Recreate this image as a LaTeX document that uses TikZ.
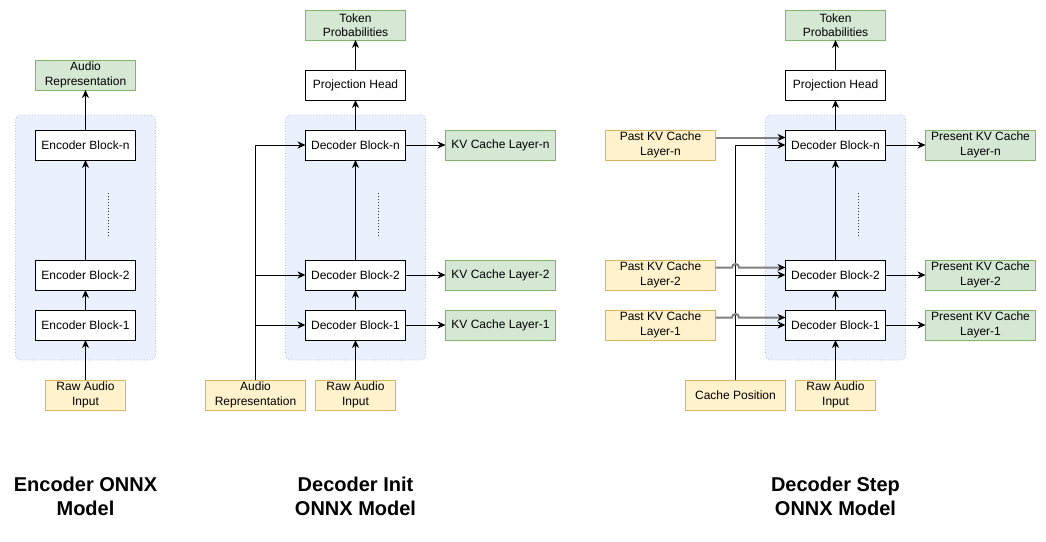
\documentclass[tikz,border=0pt]{standalone}
\usepackage{fontspec}
\setmainfont{Liberation Sans}
\usetikzlibrary{arrows.meta}

\definecolor{gfill}{HTML}{D5E8D4}
\definecolor{gdraw}{HTML}{82B366}
\definecolor{yfill}{HTML}{FFF2CC}
\definecolor{ydraw}{HTML}{D6B656}
\definecolor{cfill}{HTML}{EBF1FC}
\definecolor{cdraw}{HTML}{A9BCD9}
\definecolor{hopgray}{HTML}{808080}

\begin{document}
\begin{tikzpicture}[x=1pt,y=-1pt,
  box/.style={draw=black, line width=1pt, fill=white, minimum width=100pt, minimum height=30pt, inner sep=0pt, outer sep=0pt, align=center, font=\fontsize{12}{14.4}\selectfont},
  gbox/.style={box, draw=gdraw, fill=gfill},
  ybox/.style={box, draw=ydraw, fill=yfill},
  cont/.style={draw=cdraw, fill=cfill, dotted, rounded corners=5pt, line width=0.8pt, minimum width=140pt, minimum height=245pt, inner sep=0pt},
  arr/.style={line width=1pt, -{Stealth[length=8pt,width=7pt,inset=2.5pt]}},
  garr/.style={line width=2pt, draw=hopgray, -{Stealth[length=8pt,width=7pt,inset=2.5pt,color=black]}},
  dots/.style={line width=0.9pt, dash pattern=on 1pt off 2pt, draw=black!80},
  title/.style={font=\fontsize{20}{24}\selectfont\bfseries, align=center}
]
\useasboundingbox[fill=white] (0,0) rectangle (1046,541);

% containers
\node[cont] (ecnt) at (85.5,237.5) {};
\node[cont] (icnt) at (355.5,237.5) {};
\node[cont] (scnt) at (835.5,237.5) {};

% ---------------- Encoder ----------------
\node[gbox] (earep) at (85.5,75) {Audio\\Representation};
\node[box] (ebn) at (85.5,145) {Encoder Block-n};
\node[box] (eb2) at (85.5,275) {Encoder Block-2};
\node[box] (eb1) at (85.5,325) {Encoder Block-1};
\node[ybox, minimum width=80pt] (eraw) at (85.5,395) {Raw Audio\\Input};
\draw[dots] (108,193) -- (108,237);

\draw[arr] (eraw) -- (eb1);
\draw[arr] (eb1) -- (eb2);
\draw[arr] (eb2) -- (ebn);
\draw[arr] (ebn) -- (earep);

% ---------------- Decoder Init ----------------
\node[gbox] (itok) at (355.5,25) {Token\\Probabilities};
\node[box] (iproj) at (355.5,85) {Projection Head};
\node[box] (idn) at (355.5,145) {Decoder Block-n};
\node[box] (id2) at (355.5,275) {Decoder Block-2};
\node[box] (id1) at (355.5,325) {Decoder Block-1};
\node[gbox, minimum width=110pt] (ikvn) at (500.5,145) {KV Cache Layer-n};
\node[gbox, minimum width=110pt] (ikv2) at (500.5,275) {KV Cache Layer-2};
\node[gbox, minimum width=110pt] (ikv1) at (500.5,325) {KV Cache Layer-1};
\node[ybox] (iarep) at (255.5,395) {Audio\\Representation};
\node[ybox, minimum width=80pt] (iraw) at (355.5,395) {Raw Audio\\Input};
\draw[dots] (378.5,193) -- (378.5,237);

\draw[arr] (iraw) -- (id1);
\draw[arr] (id1) -- (id2);
\draw[arr] (id2) -- (idn);
\draw[arr] (idn) -- (iproj);
\draw[arr] (iproj) -- (itok);
\draw[arr] (idn) -- (ikvn);
\draw[arr] (id2) -- (ikv2);
\draw[arr] (id1) -- (ikv1);
\draw[arr] (iarep.north) |- (idn.west);
\draw[arr] (iarep.north) |- (id2.west);
\draw[arr] (iarep.north) |- (id1.west);

% ---------------- Decoder Step ----------------
\node[gbox] (stok) at (835.5,25) {Token\\Probabilities};
\node[box] (sproj) at (835.5,85) {Projection Head};
\node[box] (sdn) at (835.5,145) {Decoder Block-n};
\node[box] (sd2) at (835.5,275) {Decoder Block-2};
\node[box] (sd1) at (835.5,325) {Decoder Block-1};
\node[gbox, minimum width=110pt] (skvn) at (980.5,145) {Present KV Cache\\Layer-n};
\node[gbox, minimum width=110pt] (skv2) at (980.5,275) {Present KV Cache\\Layer-2};
\node[gbox, minimum width=110pt] (skv1) at (980.5,325) {Present KV Cache\\Layer-1};
\node[ybox, minimum width=110pt] (pkvn) at (660.5,145) {Past KV Cache\\Layer-n};
\node[ybox, minimum width=110pt] (pkv2) at (660.5,275) {Past KV Cache\\Layer-2};
\node[ybox, minimum width=110pt] (pkv1) at (660.5,325) {Past KV Cache\\Layer-1};
\node[ybox] (cpos) at (735.5,395) {Cache Position};
\node[ybox, minimum width=80pt] (sraw) at (835.5,395) {Raw Audio\\Input};
\draw[dots] (858.5,193) -- (858.5,237);

\draw[arr] (sraw) -- (sd1);
\draw[arr] (sd1) -- (sd2);
\draw[arr] (sd2) -- (sdn);
\draw[arr] (sdn) -- (sproj);
\draw[arr] (sproj) -- (stok);
\draw[arr] (sdn) -- (skvn);
\draw[arr] (sd2) -- (skv2);
\draw[arr] (sd1) -- (skv1);
\draw[arr] (cpos.north) |- (sdn.west);
\draw[arr] (cpos.north) |- (sd2.west);
\draw[arr] (cpos.north) |- (sd1.west);

\coordinate (pn) at ([yshift=7.5pt]pkvn.east);
\coordinate (p2) at ([yshift=7.5pt]pkv2.east);
\coordinate (p1) at ([yshift=7.5pt]pkv1.east);
\coordinate (h2) at (p2 -| cpos.north);
\coordinate (h1) at (p1 -| cpos.north);
\draw[garr] (pn) -- ([yshift=7.5pt]sdn.west);
\draw[garr] (p2) -- ([xshift=-3.5pt]h2) arc[start angle=180,end angle=0,radius=3.5pt] -- ([yshift=7.5pt]sd2.west);
\draw[garr] (p1) -- ([xshift=-3.5pt]h1) arc[start angle=180,end angle=0,radius=3.5pt] -- ([yshift=7.5pt]sd1.west);

% titles
\node[title] (t1) at (85.5,496.5) {Encoder ONNX\\Model};
\node[title] (t2) at (355.5,496.5) {Decoder Init\\ONNX Model};
\node[title] (t3) at (835.5,496.5) {Decoder Step\\ONNX Model};
\end{tikzpicture}
\end{document}
